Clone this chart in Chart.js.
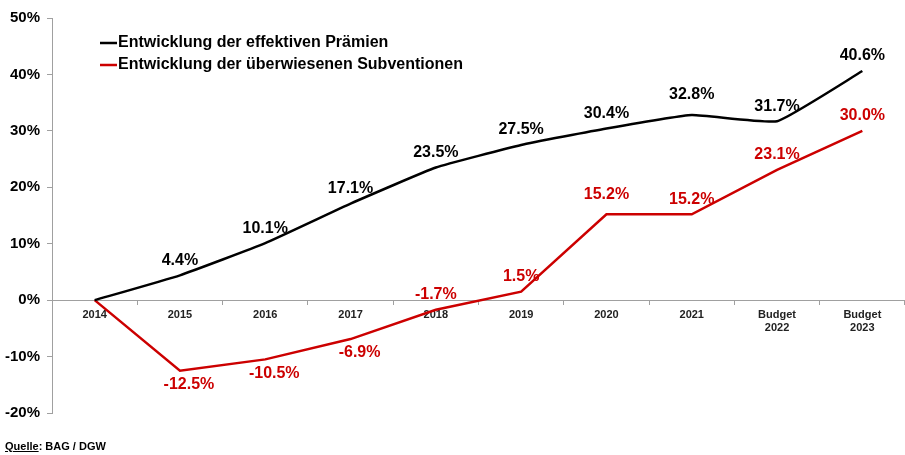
<!DOCTYPE html>
<html>
<head>
<meta charset="utf-8">
<script src="https://cdn.jsdelivr.net/npm/chart.js@4/dist/chart.umd.min.js"></script>
<style>
  body { margin: 0; background: #fff; }
  #wrap { position: relative; width: 905px; height: 455px; }
  #source { position: absolute; left: 5px; top: 440px; font: bold 11px "Liberation Sans", Arial, sans-serif; color: #000; }
</style>
</head>
<body>
<div id="wrap">
  <canvas id="chart" width="905" height="455"></canvas>
  <div id="source"><u>Quelle</u>: BAG / DGW</div>
</div>
<script>
// data
const years = ["2014", "2015", "2016", "2017", "2018", "2019", "2020", "2021", ["Budget", "2022"], ["Budget", "2023"]];
const praemien = [0, 4.4, 10.1, 17.1, 23.5, 27.5, 30.4, 32.8, 31.7, 40.6];
const subventionen = [0, -12.5, -10.5, -6.9, -1.7, 1.5, 15.2, 15.2, 23.1, 30.0];
const seriesNames = ["Entwicklung der effektiven Prämien", "Entwicklung der überwiesenen Subventionen"];

const FONT = "'Liberation Sans', Arial, sans-serif";
const RED = "#cc0000";

// value labels next to every point (except the 2014 base)
const valueLabels = {
  id: "valueLabels",
  afterDatasetsDraw(chart) {
    const ctx = chart.ctx;
    ctx.save();
    ctx.font = "bold 16px " + FONT;
    ctx.textAlign = "center";
    ctx.textBaseline = "middle";
    chart.data.datasets.forEach((ds, i) => {
      const meta = chart.getDatasetMeta(i);
      meta.data.forEach((pt, j) => {
        const v = ds.data[j];
        if (v === 0) return;
        ctx.fillStyle = ds.borderColor;
        let x = pt.x, y = pt.y - 15;
        // a flat or falling segment to the right would run through the text
        const next = ds.data[j + 1];
        if (next !== undefined && next <= v) y -= 5;
        if (v < -5) { x += 9; y = pt.y + 14; }
        ctx.fillText(v.toFixed(1) + "%", x, y);
      });
    });
    ctx.restore();
  }
};

// legend drawn inside the plot, top left
const innerLegend = {
  id: "innerLegend",
  afterDraw(chart) {
    const ctx = chart.ctx;
    ctx.save();
    ctx.font = "bold 16px " + FONT;
    ctx.textBaseline = "middle";
    chart.data.datasets.forEach((ds, i) => {
      const y = 43 + i * 22;
      ctx.strokeStyle = ds.borderColor;
      ctx.lineWidth = 2.5;
      ctx.beginPath();
      ctx.moveTo(100, y);
      ctx.lineTo(117, y);
      ctx.stroke();
      ctx.fillStyle = "#000";
      ctx.fillText(ds.label, 118, y);
    });
    ctx.restore();
  }
};

const data = {
  labels: years,
  datasets: [
    {
      label: seriesNames[0],
      data: praemien,
      borderColor: "#000000",
      backgroundColor: "#000000",
      borderWidth: 2.5,
      pointRadius: 0,
      tension: 0.12,
    },
    {
      label: seriesNames[1],
      data: subventionen,
      borderColor: RED,
      backgroundColor: RED,
      borderWidth: 2.5,
      pointRadius: 0,
      tension: 0,
    },
  ],
};

const config = {
  type: "line",
  data: data,
  options: {
    responsive: false,
    animation: false,
    layout: { padding: { top: 18, bottom: 42, left: 0, right: 0 } },
    plugins: {
      legend: { display: false },
      tooltip: { enabled: false },
    },
    scales: {
      y: {
        min: -20,
        max: 50,
        afterFit: (axis) => { axis.width = 52; },
        ticks: {
          stepSize: 10,
          padding: 7,
          color: "#000",
          font: { family: FONT, size: 15, weight: "bold" },
          callback: (v) => v + "%",
        },
        grid: { drawOnChartArea: false, drawTicks: true, tickLength: 5, color: "#a0a0a0" },
        border: { display: true, color: "#a0a0a0", width: 1 },
      },
      x: {
        position: { y: 0 },
        offset: true,
        afterFit: (axis) => { axis.height = 0; },
        ticks: {
          padding: 4,
          color: "#222",
          maxRotation: 0,
          autoSkip: false,
          font: { family: FONT, size: 11, weight: "bold", lineHeight: 1.2 },
        },
        grid: { offset: true, drawOnChartArea: false, drawTicks: true, tickLength: 4, color: "#a0a0a0" },
        border: { display: true, color: "#a0a0a0", width: 1 },
      },
    },
  },
  plugins: [valueLabels, innerLegend],
};

const ctx = document.getElementById("chart").getContext("2d");
const myChart = new Chart(ctx, config);
</script>
</body>
</html>
